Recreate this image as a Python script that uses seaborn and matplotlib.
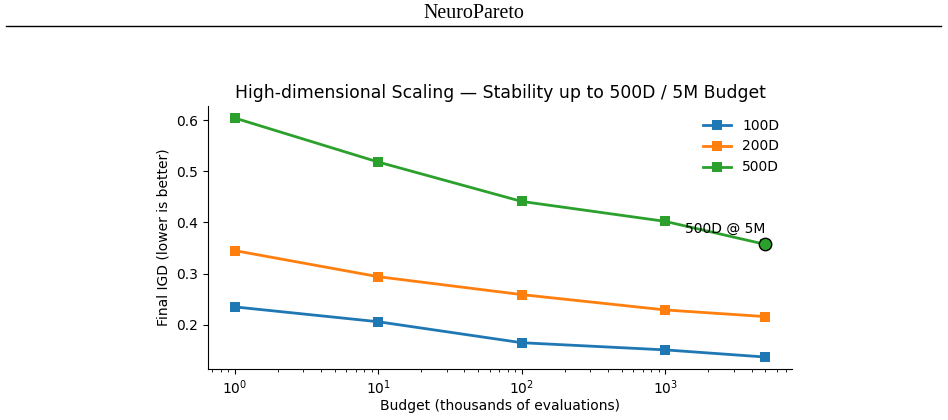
import matplotlib
matplotlib.use("Agg")
import matplotlib.pyplot as plt
import seaborn as sns
import pandas as pd

budgets = [1, 10, 100, 1000, 5000]
igd_100d = [0.235, 0.206, 0.165, 0.151, 0.137]
igd_200d = [0.345, 0.294, 0.259, 0.229, 0.216]
igd_500d = [0.604, 0.518, 0.441, 0.402, 0.357]
series_names = ["100D", "200D", "500D"]

rows = []
for name, vals in zip(series_names, [igd_100d, igd_200d, igd_500d]):
    for b, v in zip(budgets, vals):
        rows.append({"Budget": b, "IGD": v, "Dim": name})
df = pd.DataFrame(rows)

plt.rcParams["font.family"] = ["DejaVu Sans"]

fig = plt.figure(figsize=(9.48, 4.2), dpi=100)
ax = fig.add_axes([208/948, 1 - 369/420, (792-208)/948, (369-106)/420])

palette = ["#1f77b4", "#ff7f0e", "#2ca02c"]
sns.lineplot(data=df, x="Budget", y="IGD", hue="Dim", style="Dim",
             markers=["s", "s", "s"], dashes=False, palette=palette,
             linewidth=2, markersize=7, markeredgewidth=0, ax=ax)
ax.set_xscale("log")
ax.set_xlabel("Budget (thousands of evaluations)", fontsize=10, labelpad=1)
ax.set_ylabel("Final IGD (lower is better)", fontsize=10)
ax.set_title("High-dimensional Scaling — Stability up to 500D / 5M Budget", fontsize=12.4)
ax.tick_params(labelsize=10)
sns.despine(ax=ax)

ax.scatter([budgets[-1]], [igd_500d[-1]], s=80, color="#2ca02c",
           edgecolor="black", linewidth=1, zorder=5)
ax.annotate("500D @ 5M", (budgets[-1], igd_500d[-1]), xytext=(0, 6),
            textcoords="offset points", ha="right", va="bottom", fontsize=10)

leg = ax.legend(frameon=False, loc="upper right", fontsize=10, title=None)

fig.text(0.5, 1 - 14/420, "NeuroPareto", ha="center", va="center",
         fontsize=14.4, family="Liberation Serif")
fig.add_artist(plt.Line2D([6/948, 941/948], [1 - 26/420, 1 - 26/420],
                          color="black", linewidth=1))

fig.savefig("out.png", dpi=100)
